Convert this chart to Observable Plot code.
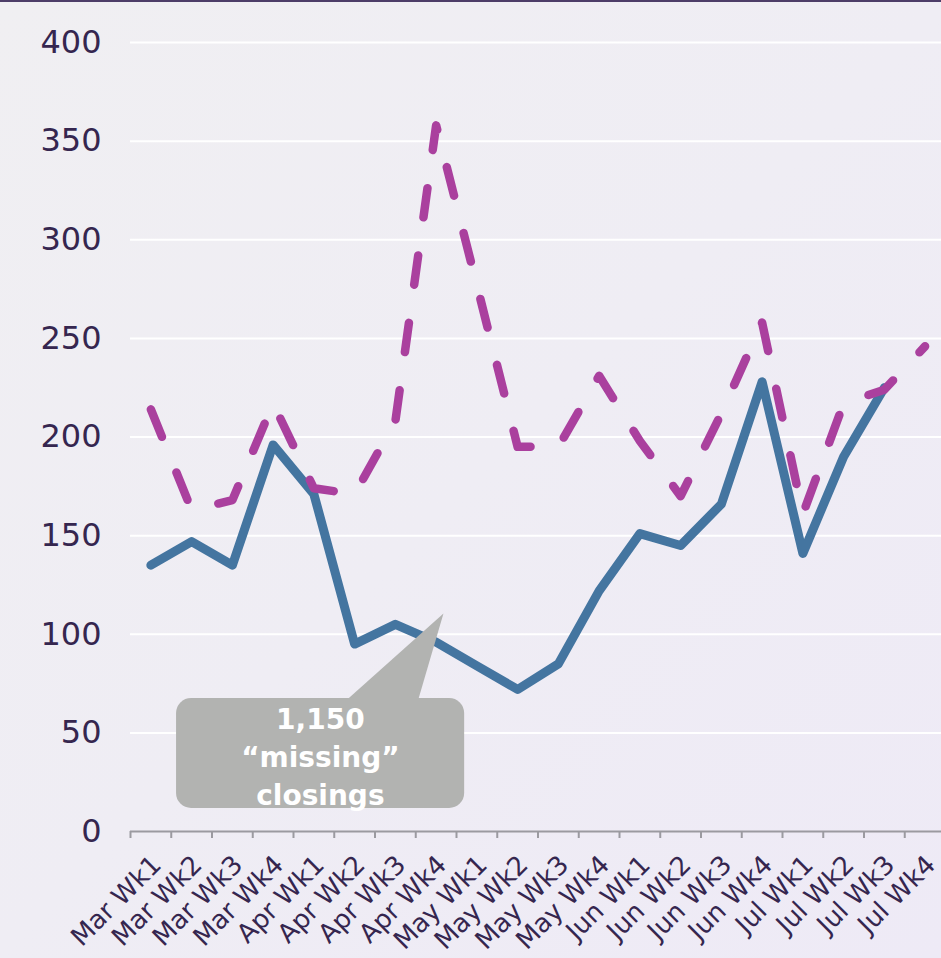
<!DOCTYPE html>
<html>
<head>
<meta charset="utf-8">
<script src="https://cdn.jsdelivr.net/npm/d3@7"></script>
<script src="https://cdn.jsdelivr.net/npm/@observablehq/plot@0.6"></script>
<style>
  html, body { margin: 0; padding: 0; }
  body {
    width: 941px; height: 958px; overflow: hidden; position: relative;
    background: linear-gradient(135deg, #f0eff2 0%, #efedf4 50%, #eeeaf6 100%);
  }
  #topline { position: absolute; left: 0; top: 0; width: 941px; height: 2px; background: #4d3d68; }
  #chart svg { display: block; background: transparent; }
</style>
</head>
<body>
<div id="chart"></div>
<div id="topline"></div>
<script>
// ---- data ----
const categories = ["Mar Wk1","Mar Wk2","Mar Wk3","Mar Wk4","Apr Wk1","Apr Wk2","Apr Wk3","Apr Wk4",
  "May Wk1","May Wk2","May Wk3","May Wk4","Jun Wk1","Jun Wk2","Jun Wk3","Jun Wk4",
  "Jul Wk1","Jul Wk2","Jul Wk3","Jul Wk4"];
const solidValues  = [135,147,135,196,171,95,105,96,84,72,85,122,151,145,166,228,141,190,225,null];
const dashedValues = [214,163,168,217,174,171,208,358,277,195,195,231,198,170,212,258,161,217,224,246];
const yTicks = [0,50,100,150,200,250,300,350,400];
const calloutLines = ["1,150", "\u201Cmissing\u201D", "closings"];

// ---- annotation geometry (data units) ----
const calloutBox = [{x1: 0.63, x2: 7.70, y1: 11.7, y2: 67.4}];
const calloutPointer = [{x: 4.77, y: 66}, {x: 6.55, y: 66}, {x: 7.18, y: 110.5}, {x: 4.77, y: 66}];
const calloutAnchor = [{x: 4.16, y: 39}];

const solid = solidValues.map((v, i) => ({i, v})).filter(d => d.v != null);
const dashed = dashedValues.map((v, i) => ({i, v})).filter(d => d.v != null);
const idx = categories.map((_, i) => i);
const boundaries = categories.map((_, i) => i - 0.5);

const textColor = "#35264f";
const blue = "#4475a0";
const pink = "#aa409e";
const font = "'DejaVu Sans', sans-serif";

const chart = Plot.plot({
  width: 941,
  height: 958,
  marginTop: 42,
  marginBottom: 127,
  marginLeft: 130,
  marginRight: -4,
  style: {background: "transparent", fontFamily: font, color: textColor, overflow: "hidden"},
  x: {type: "linear", domain: [-0.5, 19.5], axis: null},
  y: {domain: [0, 400], axis: null},
  marks: [
    Plot.ruleY(yTicks.filter(d => d > 0), {stroke: "#ffffff", strokeWidth: 2}),
    Plot.axisY({ticks: yTicks, tickSize: 0, tickPadding: 29, fontSize: 32, fill: textColor,
      fontFamily: font, tickFormat: d => String(d)}),
    Plot.ruleY([0], {stroke: "#9b9aa0", strokeWidth: 2}),
    Plot.axisX({ticks: boundaries, tickSize: 7, stroke: "#9b9aa0", strokeWidth: 2, tickFormat: () => ""}),
    Plot.axisX({ticks: idx, tickSize: 0, tickPadding: 29, tickRotate: -45, fontSize: 26, dx: 6,
      fill: textColor, fontFamily: font, tickFormat: i => categories[i]}),
    Plot.line(solid, {x: "i", y: "v", stroke: blue, strokeWidth: 9, strokeLinejoin: "round", strokeLinecap: "round"}),
    Plot.line(dashed, {x: "i", y: "v", stroke: pink, strokeWidth: 8.5, strokeDasharray: "29.5,38.5",
      strokeLinecap: "round", strokeLinejoin: "round"}),
    Plot.line(calloutPointer, {x: "x", y: "y", fill: "#b2b3b1", stroke: "none"}),
    Plot.rect(calloutBox, {x1: "x1", x2: "x2", y1: "y1", y2: "y2", fill: "#b2b3b1", rx: 15, ry: 15}),
    Plot.text(calloutAnchor, {x: "x", y: "y", text: () => calloutLines.join("\n"), fill: "#ffffff",
      fontSize: 28, fontWeight: "bold", fontFamily: font, lineHeight: 1.36})
  ]
});
document.getElementById("chart").appendChild(chart);
</script>
</body>
</html>
